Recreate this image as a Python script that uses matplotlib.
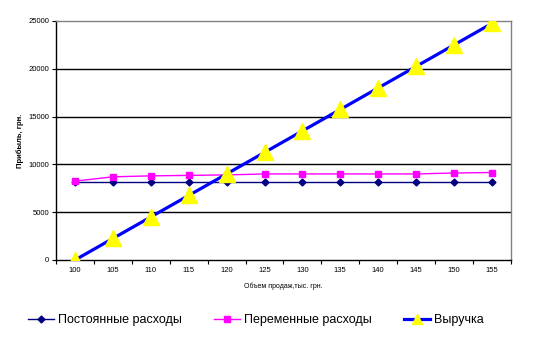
import matplotlib
matplotlib.use("Agg")
import matplotlib.pyplot as plt
from matplotlib.lines import Line2D
import numpy as np

plt.rcParams['font.family'] = ['Liberation Sans', 'DejaVu Sans']

volume = [100, 105, 110, 115, 120, 125, 130, 135, 140, 145, 150, 155]
fixed_costs = [8200, 8200, 8200, 8200, 8200, 8200, 8200, 8200, 8200, 8200, 8200, 8200]
variable_costs = [8250, 8700, 8800, 8850, 8900, 9000, 9000, 9000, 9000, 9000, 9100, 9150]
revenue = [0, 2250, 4500, 6750, 9000, 11250, 13500, 15750, 18000, 20250, 22500, 24750]
labels = ['Постоянные расходы', 'Переменные расходы', 'Выручка']

fig = plt.figure(figsize=(5.35, 3.37), dpi=100)
ax = fig.add_axes([0.1047, 0.2285, 0.8503, 0.7092])

x = np.arange(len(volume))
ax.plot(x, fixed_costs, color='#000080', lw=1.0, marker='D', ms=3.5,
        mfc='#000080', mec='#000080', zorder=3)
ax.plot(x, variable_costs, color='#FF00FF', lw=1.0, marker='s', ms=5,
        mfc='#FF00FF', mec='#FF00FF', zorder=3)
ax.plot(x, revenue, color='#0000FF', lw=2.3, marker='^', ms=12,
        mfc='#FFFF00', mec='#FFFF00', zorder=4)

ax.set_xlim(-0.5, len(volume) - 0.5)
ax.set_ylim(0, 25000)
ax.set_yticks(np.arange(0, 25001, 5000))
ax.tick_params(axis='y', labelsize=5.5, length=3, width=0.8, pad=2)
ax.set_xticks(np.arange(-0.5, len(volume), 1.0))
ax.set_xticklabels([])
ax.set_xticks(x, minor=True)
ax.set_xticklabels([str(v) for v in volume], minor=True, fontsize=5.5)
ax.tick_params(axis='x', which='major', length=3, width=0.8)
ax.tick_params(axis='x', which='minor', length=0, pad=5)

for yv in [5000, 10000, 15000, 20000]:
    ax.axhline(yv, color='black', lw=1.0, zorder=1)

for s in ['top', 'right']:
    ax.spines[s].set_color('#808080')
    ax.spines[s].set_linewidth(1.0)
for s in ['left', 'bottom']:
    ax.spines[s].set_color('black')
    ax.spines[s].set_linewidth(1.0)

ax.set_ylabel('Прибыль, грн.', fontsize=5.5, fontweight='bold', labelpad=3)
ax.set_xlabel('Объем продаж,тыс. грн.', fontsize=5, labelpad=6)

handles = [
    Line2D([], [], color='#000080', lw=1.0, marker='D', ms=3.5, mfc='#000080', mec='#000080'),
    Line2D([], [], color='#FF00FF', lw=1.0, marker='s', ms=4.5, mfc='#FF00FF', mec='#FF00FF'),
    Line2D([], [], color='#0000FF', lw=2.3, marker='^', ms=7, mfc='#FFFF00', mec='#FFFF00'),
]
fig.legend(handles, labels, loc='center', bbox_to_anchor=(0.478, 0.05), ncol=3, frameon=False,
           fontsize=9, handlelength=2.1, columnspacing=2.6, handletextpad=0.3)

fig.savefig('out.png', dpi=100)
